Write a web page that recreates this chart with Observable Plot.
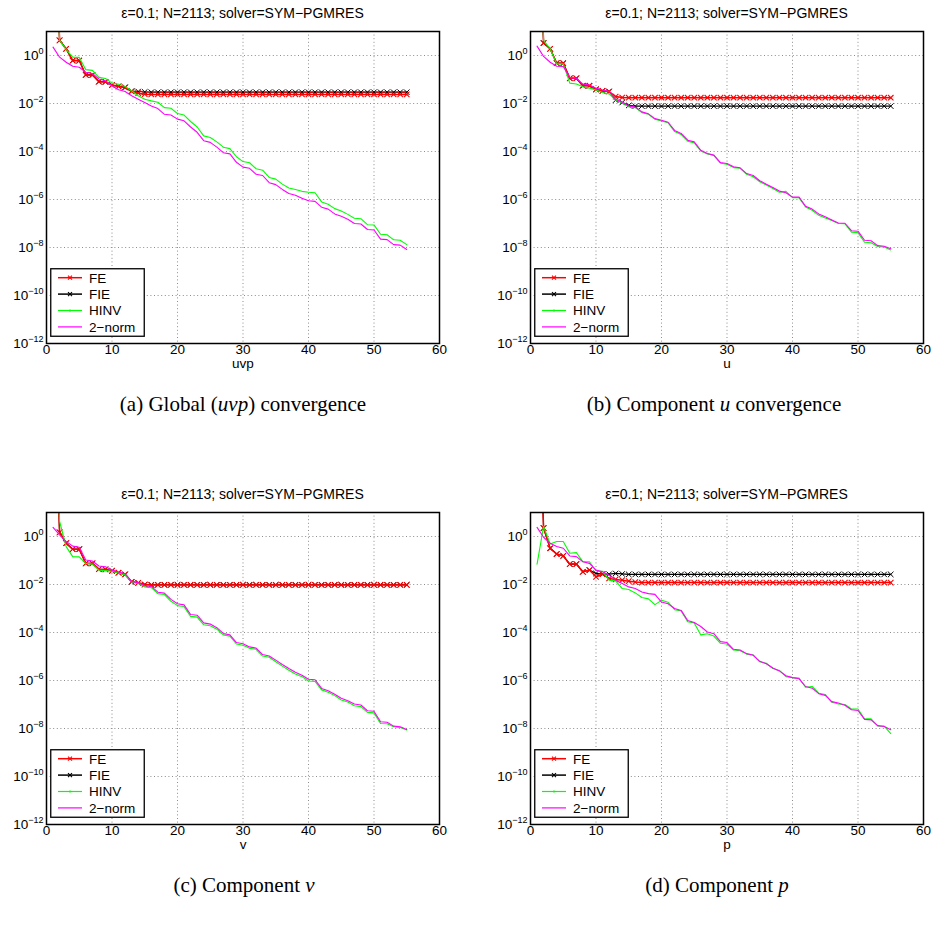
<!DOCTYPE html>
<html>
<head>
<meta charset="utf-8">
<script src="https://cdn.jsdelivr.net/npm/d3@7"></script>
<script src="https://cdn.jsdelivr.net/npm/@observablehq/plot@0.6"></script>
<style>
  body { margin: 0; background: #fff; }
  #page { position: relative; width: 932px; height: 937px; background: #fff; overflow: hidden; }
  .panel { position: absolute; }
  .ttl { position: absolute; width: 320px; text-align: center; font-family: "Liberation Sans", Arial, sans-serif; font-size: 14px; line-height: 16px; color: #000; white-space: nowrap; }
  .cap { position: absolute; width: 420px; text-align: center; font-family: "Liberation Serif", "Times New Roman", serif; font-size: 21px; line-height: 24px; color: #000; white-space: nowrap; }
</style>
</head>
<body>
<div id="page"></div>
<script>
// ---- data: log10 of the residual norms (iterations 1..55) ----
const iterations = d3.range(1, 56);
const xTicks = [0, 10, 20, 30, 40, 50, 60];
const yTicks = [1e-12, 1e-10, 1e-8, 1e-6, 1e-4, 1e-2, 1e0];
const seriesNames = ["FE", "FIE", "HINV", "2−norm"];
const seriesColors = ["#ff0000", "#000000", "#00ff00", "#ff00ff"];
const titleText = "ε=0.1; N=2113; solver=SYM−PGMRES";

// Panel (a) uvp
const feA = [8, 0.63, 0.28, -0.21, -0.21, -0.81, -0.81, -1.09, -1.1, -1.23,
  -1.29, -1.33, -1.5, -1.57, -1.61, -1.62, -1.62, -1.62, -1.62, -1.62,
  -1.62, -1.62, -1.62, -1.62, -1.62, -1.62, -1.62, -1.62, -1.62, -1.62,
  -1.62, -1.62, -1.62, -1.62, -1.62, -1.62, -1.62, -1.62, -1.62, -1.62,
  -1.62, -1.62, -1.62, -1.62, -1.62, -1.62, -1.62, -1.62, -1.62, -1.62,
  -1.62, -1.62, -1.62, -1.62, -1.62];
const fieA = [8, 0.63, 0.28, -0.21, -0.21, -0.81, -0.81, -1.09, -1.1, -1.23,
  -1.29, -1.33, -1.48, -1.5, -1.52, -1.53, -1.53, -1.53, -1.53, -1.53,
  -1.53, -1.53, -1.53, -1.53, -1.53, -1.53, -1.53, -1.53, -1.53, -1.53,
  -1.53, -1.53, -1.53, -1.53, -1.53, -1.53, -1.53, -1.53, -1.53, -1.53,
  -1.53, -1.53, -1.53, -1.53, -1.53, -1.53, -1.53, -1.53, -1.53, -1.53,
  -1.53, -1.53, -1.53, -1.53, -1.53];
const hinvA = [8, 0.63, 0.25, -0.07, -0.08, -0.59, -0.62, -0.91, -0.96, -1.15,
  -1.2, -1.29, -1.47, -1.68, -1.82, -1.89, -1.95, -2.17, -2.2, -2.42,
  -2.48, -2.75, -2.98, -3.35, -3.42, -3.6, -3.82, -3.88, -4.22, -4.42,
  -4.47, -4.72, -4.78, -5.08, -5.15, -5.36, -5.52, -5.58, -5.66, -5.7,
  -5.72, -6.1, -6.2, -6.38, -6.48, -6.62, -6.78, -6.8, -7.05, -7.06,
  -7.45, -7.47, -7.68, -7.7, -7.88];
const normA = [0.35, -0.07, -0.28, -0.45, -0.49, -0.7, -0.75, -0.98, -1.05, -1.26,
  -1.43, -1.5, -1.68, -1.82, -1.96, -2.1, -2.21, -2.45, -2.48, -2.65,
  -2.72, -2.98, -3.2, -3.55, -3.62, -3.82, -4.05, -4.1, -4.45, -4.65,
  -4.7, -4.95, -5.0, -5.3, -5.38, -5.58, -5.75, -5.82, -5.95, -6.05,
  -6.08, -6.32, -6.4, -6.6, -6.7, -6.82, -7.0, -7.02, -7.25, -7.27,
  -7.65, -7.67, -7.88, -7.9, -8.08];

// Panel (b) u
const feB = [8, 0.52, 0.28, -0.32, -0.32, -0.95, -0.95, -1.26, -1.26, -1.41,
  -1.47, -1.5, -1.71, -1.75, -1.76, -1.76, -1.76, -1.76, -1.76, -1.76,
  -1.76, -1.76, -1.76, -1.76, -1.76, -1.76, -1.76, -1.76, -1.76, -1.76,
  -1.76, -1.76, -1.76, -1.76, -1.76, -1.76, -1.76, -1.76, -1.76, -1.76,
  -1.76, -1.76, -1.76, -1.76, -1.76, -1.76, -1.76, -1.76, -1.76, -1.76,
  -1.76, -1.76, -1.76, -1.76, -1.76];
const fieB = [8, 0.52, 0.28, -0.32, -0.32, -0.95, -0.95, -1.26, -1.26, -1.41,
  -1.47, -1.5, -1.86, -1.96, -2.08, -2.11, -2.11, -2.11, -2.11, -2.11,
  -2.11, -2.11, -2.11, -2.11, -2.11, -2.11, -2.11, -2.11, -2.11, -2.11,
  -2.11, -2.11, -2.11, -2.11, -2.11, -2.11, -2.11, -2.11, -2.11, -2.11,
  -2.11, -2.11, -2.11, -2.11, -2.11, -2.11, -2.11, -2.11, -2.11, -2.11,
  -2.11, -2.11, -2.11, -2.11, -2.11];
const hinvB = [8, 0.63, 0.28, -0.35, -0.35, -1.15, -1.19, -1.3, -1.36, -1.44,
  -1.54, -1.6, -1.86, -1.96, -2.14, -2.17, -2.38, -2.45, -2.66, -2.73,
  -2.8, -3.17, -3.29, -3.57, -3.64, -3.98, -4.1, -4.17, -4.49, -4.53,
  -4.67, -4.7, -4.95, -5.05, -5.26, -5.4, -5.54, -5.7, -5.66, -5.92,
  -5.93, -6.31, -6.45, -6.66, -6.77, -6.87, -7.0, -7.01, -7.36, -7.38,
  -7.78, -7.8, -7.96, -7.98, -8.1];
const normB = [0.39, -0.04, -0.28, -0.45, -0.46, -0.92, -0.95, -1.19, -1.23, -1.36,
  -1.44, -1.5, -1.82, -1.94, -2.1, -2.15, -2.35, -2.43, -2.63, -2.7,
  -2.78, -3.12, -3.25, -3.53, -3.6, -3.95, -4.08, -4.15, -4.46, -4.5,
  -4.64, -4.68, -4.92, -5.0, -5.22, -5.36, -5.5, -5.65, -5.72, -5.9,
  -5.9, -6.28, -6.4, -6.6, -6.72, -6.85, -6.98, -6.99, -7.3, -7.32,
  -7.7, -7.72, -7.92, -7.95, -8.05];

// Panel (c) v
const feC = [8, 0.17, -0.28, -0.53, -0.53, -1.12, -1.12, -1.36, -1.37, -1.43,
  -1.51, -1.58, -1.89, -1.93, -2.0, -2.02, -2.02, -2.02, -2.02, -2.02,
  -2.02, -2.02, -2.02, -2.02, -2.02, -2.02, -2.02, -2.02, -2.02, -2.02,
  -2.02, -2.02, -2.02, -2.02, -2.02, -2.02, -2.02, -2.02, -2.02, -2.02,
  -2.02, -2.02, -2.02, -2.02, -2.02, -2.02, -2.02, -2.02, -2.02, -2.02,
  -2.02, -2.02, -2.02, -2.02, -2.02];
const fieC = [8, 0.17, -0.28, -0.53, -0.53, -1.12, -1.12, -1.36, -1.37, -1.43,
  -1.51, -1.58, -1.89, -1.93, -2.0, -2.01, -2.01, -2.01, -2.01, -2.01,
  -2.01, -2.01, -2.01, -2.01, -2.01, -2.01, -2.01, -2.01, -2.01, -2.01,
  -2.01, -2.01, -2.01, -2.01, -2.01, -2.01, -2.01, -2.01, -2.01, -2.01,
  -2.01, -2.01, -2.01, -2.01, -2.01, -2.01, -2.01, -2.01, -2.01, -2.01,
  -2.01, -2.01, -2.01, -2.01, -2.01];
const hinvC = [8, 0.63, -0.42, -0.84, -0.85, -1.12, -1.15, -1.4, -1.42, -1.45,
  -1.52, -1.6, -1.9, -1.95, -2.1, -2.13, -2.38, -2.42, -2.7, -2.88,
  -2.92, -3.33, -3.36, -3.68, -3.72, -3.86, -4.1, -4.15, -4.48, -4.53,
  -4.66, -4.7, -4.98, -5.03, -5.22, -5.4, -5.57, -5.73, -5.84, -6.02,
  -6.04, -6.39, -6.49, -6.63, -6.81, -6.9, -7.05, -7.09, -7.33, -7.35,
  -7.79, -7.8, -7.93, -7.96, -8.06];
const normC = [0.38, 0.07, -0.21, -0.4, -0.45, -0.98, -1.02, -1.23, -1.26, -1.4,
  -1.48, -1.55, -1.88, -1.93, -2.05, -2.08, -2.32, -2.36, -2.62, -2.8,
  -2.85, -3.25, -3.28, -3.6, -3.65, -3.8, -4.04, -4.1, -4.42, -4.47,
  -4.6, -4.65, -4.92, -4.98, -5.15, -5.33, -5.5, -5.66, -5.78, -5.95,
  -5.97, -6.33, -6.43, -6.57, -6.74, -6.84, -6.98, -7.02, -7.26, -7.28,
  -7.72, -7.74, -7.9, -7.93, -8.04];

// Panel (d) p
const feD = [8, 0.35, -0.49, -0.73, -0.81, -1.15, -1.15, -1.47, -1.4, -1.68,
  -1.57, -1.75, -1.79, -1.82, -1.86, -1.9, -1.92, -1.92, -1.92, -1.92,
  -1.92, -1.92, -1.92, -1.92, -1.92, -1.92, -1.92, -1.92, -1.92, -1.92,
  -1.92, -1.92, -1.92, -1.92, -1.92, -1.92, -1.92, -1.92, -1.92, -1.92,
  -1.92, -1.92, -1.92, -1.92, -1.92, -1.92, -1.92, -1.92, -1.92, -1.92,
  -1.92, -1.92, -1.92, -1.92, -1.92];
const fieD = [8, 0.35, -0.49, -0.73, -0.81, -1.15, -1.15, -1.47, -1.4, -1.54,
  -1.57, -1.57, -1.54, -1.56, -1.58, -1.58, -1.58, -1.58, -1.58, -1.58,
  -1.58, -1.58, -1.58, -1.58, -1.58, -1.58, -1.58, -1.58, -1.58, -1.58,
  -1.58, -1.58, -1.58, -1.58, -1.58, -1.58, -1.58, -1.58, -1.58, -1.58,
  -1.58, -1.58, -1.58, -1.58, -1.58, -1.58, -1.58, -1.58, -1.58, -1.58,
  -1.58, -1.58, -1.58, -1.58, -1.58];
const hinvD = [-1.15, 0.42, -0.31, -0.21, -0.21, -0.7, -0.67, -1.05, -1.05, -1.43,
  -1.45, -1.82, -1.85, -2.17, -2.21, -2.35, -2.54, -2.6, -2.84, -2.66,
  -2.74, -3.05, -3.1, -3.55, -3.6, -4.1, -4.05, -4.15, -4.45, -4.48,
  -4.73, -4.76, -4.9, -4.93, -5.22, -5.28, -5.5, -5.58, -5.84, -5.88,
  -5.9, -6.28, -6.25, -6.53, -6.58, -6.91, -6.98, -7.0, -7.19, -7.19,
  -7.6, -7.6, -7.89, -7.9, -8.21];
const normD = [0.38, -0.03, -0.28, -0.42, -0.49, -0.81, -0.84, -1.05, -1.12, -1.4,
  -1.47, -1.61, -1.82, -1.96, -2.1, -2.17, -2.31, -2.38, -2.41, -2.73,
  -2.8, -3.0, -3.08, -3.5, -3.58, -3.75, -3.98, -4.05, -4.38, -4.42,
  -4.7, -4.73, -4.88, -4.95, -5.2, -5.3, -5.48, -5.6, -5.8, -5.88,
  -5.93, -6.25, -6.32, -6.55, -6.62, -6.88, -6.94, -7.03, -7.22, -7.25,
  -7.62, -7.64, -7.88, -7.92, -8.05];

// ---- layout ----
const FONT = '"Liberation Sans", Arial, Helvetica, sans-serif';
const panels = [
  {left: 0,   top: 0,   mL: 46, mR: 27, capX: 243, xlabel: "uvp", cap: "(a) Global (<i>uvp</i>) convergence", fe: feA, fie: fieA, hinv: hinvA, norm: normA},
  {left: 466, top: 0,   mL: 64, mR: 9,  capX: 714, xlabel: "u",   cap: "(b) Component <i>u</i> convergence", fe: feB, fie: fieB, hinv: hinvB, norm: normB},
  {left: 0,   top: 481, mL: 46, mR: 27, capX: 244, xlabel: "v",   cap: "(c) Component <i>v</i>", fe: feC, fie: fieC, hinv: hinvC, norm: normC},
  {left: 466, top: 481, mL: 64, mR: 9,  capX: 717, xlabel: "p",   cap: "(d) Component <i>p</i>", fe: feD, fie: fieD, hinv: hinvD, norm: normD}
];

const page = document.getElementById("page");
const rows = arr => arr.map((e, i) => ({x: iterations[i], y: Math.pow(10, e)}));
const ns = "http://www.w3.org/2000/svg";
const grid = {stroke: "#808080", strokeDasharray: "1,2.6", strokeWidth: 0.9};

for (const p of panels) {
  const W = 466, H = 380, mT = 31, mB = 37;
  const fe = rows(p.fe), fie = rows(p.fie), hinv = rows(p.hinv), norm = rows(p.norm);
  const fig = Plot.plot({
    width: W, height: H,
    marginLeft: p.mL, marginRight: p.mR, marginTop: mT, marginBottom: mB,
    x: {domain: [0, 60], axis: null},
    y: {type: "log", domain: [1e-12, 1e1], axis: null},
    style: {fontFamily: FONT, fontSize: "13.5px", background: "transparent", overflow: "visible", color: "#000"},
    marks: [
      Plot.ruleX(xTicks.slice(1, -1), {x: d => d, ...grid}),
      Plot.ruleY(yTicks.slice(1), {y: d => d, ...grid}),
      Plot.line(fie, {x: "x", y: "y", stroke: seriesColors[1], strokeWidth: 1.2, clip: true}),
      Plot.dot(fie, {x: "x", y: "y", symbol: "times", r: 2.6, stroke: seriesColors[1], strokeWidth: 1, clip: true}),
      Plot.line(fe, {x: "x", y: "y", stroke: seriesColors[0], strokeWidth: 1.5, clip: true}),
      Plot.dot(fe, {x: "x", y: "y", symbol: "times", r: 2.6, stroke: seriesColors[0], strokeWidth: 1.1, clip: true}),
      Plot.line(hinv, {x: "x", y: "y", stroke: seriesColors[2], strokeWidth: 1.1, clip: true}),
      Plot.line(norm, {x: "x", y: "y", stroke: seriesColors[3], strokeWidth: 1.1, clip: true}),
      Plot.frame({stroke: "#000", strokeWidth: 1.5}),
      Plot.text(xTicks, {x: d => d, text: d => String(d), frameAnchor: "bottom", dy: 10, fontSize: 13.5}),
      Plot.text(yTicks, {y: d => d, text: d => "10^" + Math.round(Math.log10(d)), frameAnchor: "left", dx: -3, textAnchor: "end", fontSize: 13.5}),
      Plot.text([p.xlabel], {text: d => d, frameAnchor: "bottom", dy: 24, fontSize: 13.5})
    ]
  });
  // superscript exponents on the y tick labels
  fig.querySelectorAll("text").forEach(t => {
    const s = t.textContent;
    if (!/^10\^/.test(s)) return;
    const parts = s.split("^");
    while (t.firstChild) t.removeChild(t.firstChild);
    const a = document.createElementNS(ns, "tspan");
    a.textContent = parts[0];
    const b = document.createElementNS(ns, "tspan");
    b.setAttribute("dy", "-0.6em");
    b.setAttribute("font-size", "9");
    b.textContent = parts[1].replace("-", "−");
    t.appendChild(a); t.appendChild(b);
  });
  const holder = document.createElement("div");
  holder.className = "panel";
  holder.style.left = p.left + "px";
  holder.style.top = p.top + "px";
  holder.appendChild(fig);
  page.appendChild(holder);

  // title
  const frameCenter = p.left + p.mL + (W - p.mL - p.mR) / 2;
  const t = document.createElement("div");
  t.className = "ttl";
  t.textContent = titleText;
  t.style.left = (frameCenter - 160) + "px";
  t.style.top = (p.top + 5) + "px";
  page.appendChild(t);

  // legend
  const lx = p.left + p.mL + 4, ly = p.top + 268;
  const leg = d3.create("svg").attr("width", 96).attr("height", 70)
    .style("position", "absolute").style("left", lx + "px").style("top", ly + "px");
  leg.append("rect").attr("x", 0.75).attr("y", 0.75).attr("width", 93.5).attr("height", 67.5)
    .attr("fill", "#fff").attr("stroke", "#000").attr("stroke-width", 1.3);
  seriesNames.forEach((name, i) => {
    const cy = 9.7 + i * 16.4;
    const col = seriesColors[i];
    leg.append("line").attr("x1", 8).attr("x2", 32).attr("y1", cy).attr("y2", cy)
      .attr("stroke", col).attr("stroke-width", i < 2 ? 1.5 : 1.2);
    if (i < 2) {
      leg.append("path").attr("d", `M18,${cy - 2}L22,${cy + 2}M18,${cy + 2}L22,${cy - 2}`)
        .attr("stroke", col).attr("stroke-width", 1.1);
    } else if (i === 2) {
      leg.append("circle").attr("cx", 20).attr("cy", cy).attr("r", 1.1).attr("fill", col);
    }
    leg.append("text").attr("x", 39).attr("y", cy).attr("dy", "0.36em")
      .attr("font-family", FONT).attr("font-size", 13.5).attr("fill", "#000").text(name);
  });
  page.appendChild(leg.node());

  // caption
  const c = document.createElement("div");
  c.className = "cap";
  c.innerHTML = p.cap;
  c.style.left = (p.capX - 210) + "px";
  c.style.top = (p.top + 392) + "px";
  page.appendChild(c);
}
</script>
</body>
</html>
